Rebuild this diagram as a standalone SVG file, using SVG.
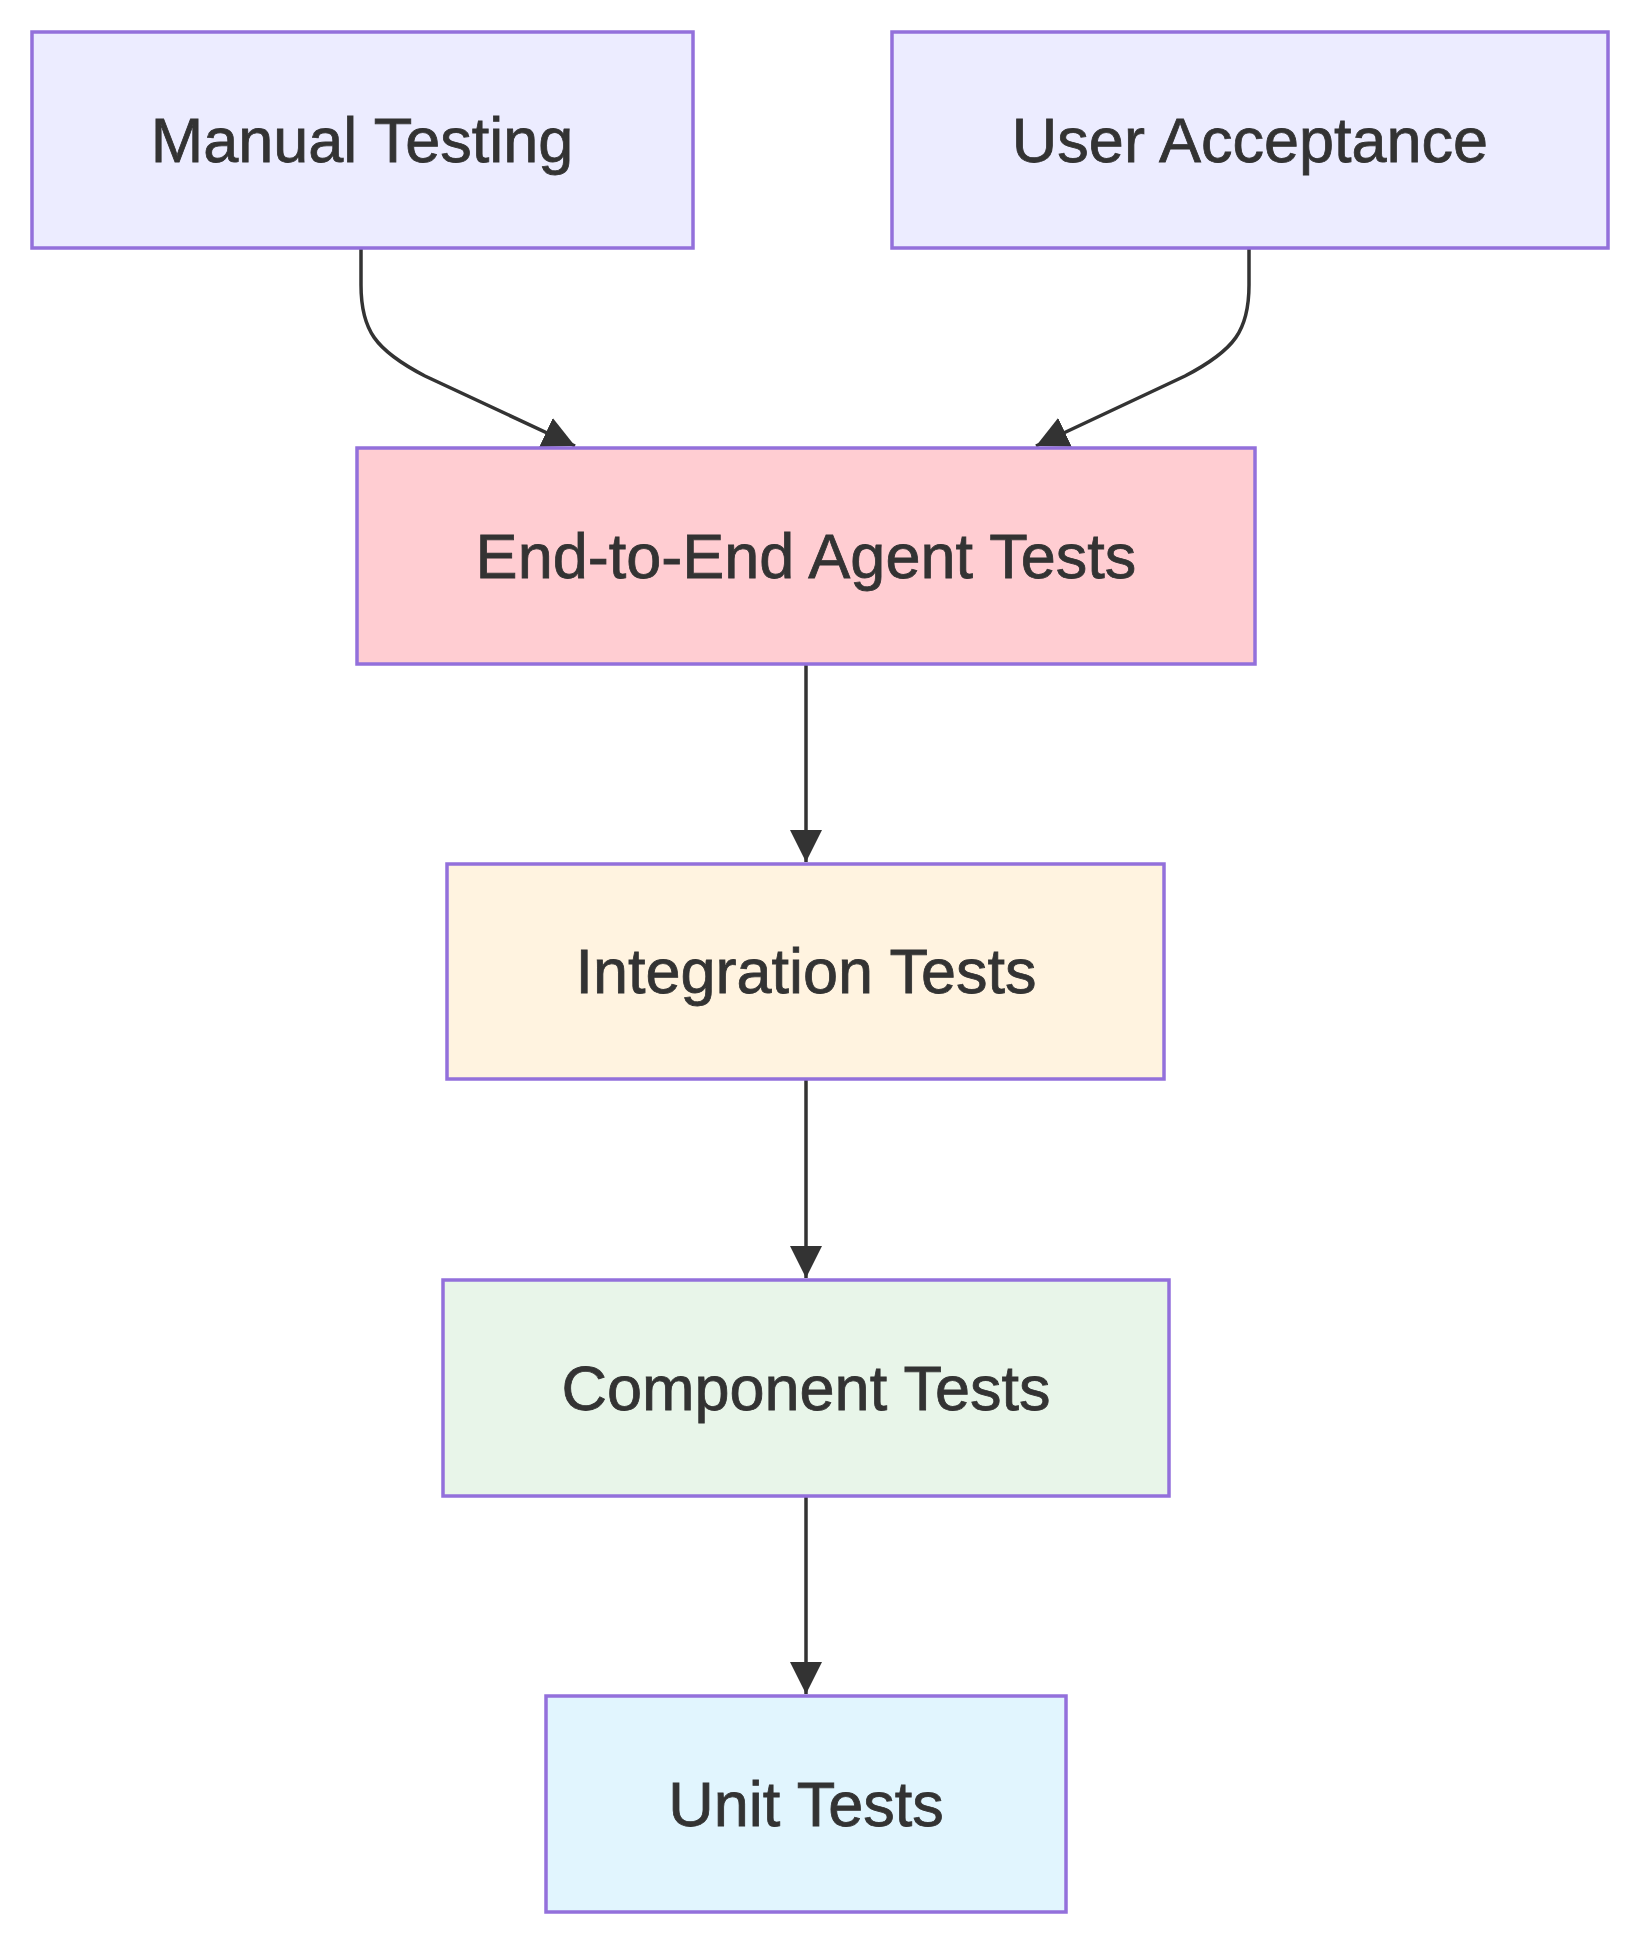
<svg xmlns="http://www.w3.org/2000/svg" width="1636" height="1944" viewBox="0 0 1636 1944">
<style>
.node rect{stroke:#9370DB;stroke-width:3.5}
.node text{font-family:"Liberation Sans",Arial,sans-serif;font-size:63px;fill:#333333;stroke:#333333;stroke-width:0.8;text-anchor:middle}
.edge{fill:none;stroke:#333333;stroke-width:3.5}
</style>
<defs>
<marker id="arrow" markerUnits="userSpaceOnUse" markerWidth="32" markerHeight="32" viewBox="0 0 10 10" refX="10" refY="5" orient="auto">
<path d="M0,0 L10,5 L0,10 z" fill="#333333"/>
</marker>
</defs>
<rect width="1636" height="1944" fill="#ffffff"/>
<g id="connectors">
<path class="edge" d="M361,248 L361,285 C361,330 375,350 425,376 L575,446" marker-end="url(#arrow)"/>
<path class="edge" d="M1249,248 L1249,285 C1249,330 1235,350 1185,376 L1036,446" marker-end="url(#arrow)"/>
<path class="edge" d="M806,664 L806,862" marker-end="url(#arrow)"/>
<path class="edge" d="M806,1079 L806,1278" marker-end="url(#arrow)"/>
<path class="edge" d="M806,1496 L806,1694" marker-end="url(#arrow)"/>
</g>
<g id="manual" class="node">
<rect x="32" y="32" width="661" height="216" fill="#ECECFF"/>
<text x="362" y="162">Manual Testing</text>
</g>
<g id="user" class="node">
<rect x="892" y="32" width="716" height="216" fill="#ECECFF"/>
<text x="1250" y="162">User Acceptance</text>
</g>
<g id="e2e" class="node">
<rect x="357" y="448" width="898" height="216" fill="#FFCDD2"/>
<text x="806" y="578">End-to-End Agent Tests</text>
</g>
<g id="integration" class="node">
<rect x="447" y="864" width="717" height="215" fill="#FFF3E0"/>
<text x="806" y="993">Integration Tests</text>
</g>
<g id="component" class="node">
<rect x="443" y="1280" width="726" height="216" fill="#E8F5E9"/>
<text x="806" y="1410">Component Tests</text>
</g>
<g id="unit" class="node">
<rect x="546" y="1696" width="520" height="216" fill="#E1F5FE"/>
<text x="806" y="1826">Unit Tests</text>
</g>
</svg>
